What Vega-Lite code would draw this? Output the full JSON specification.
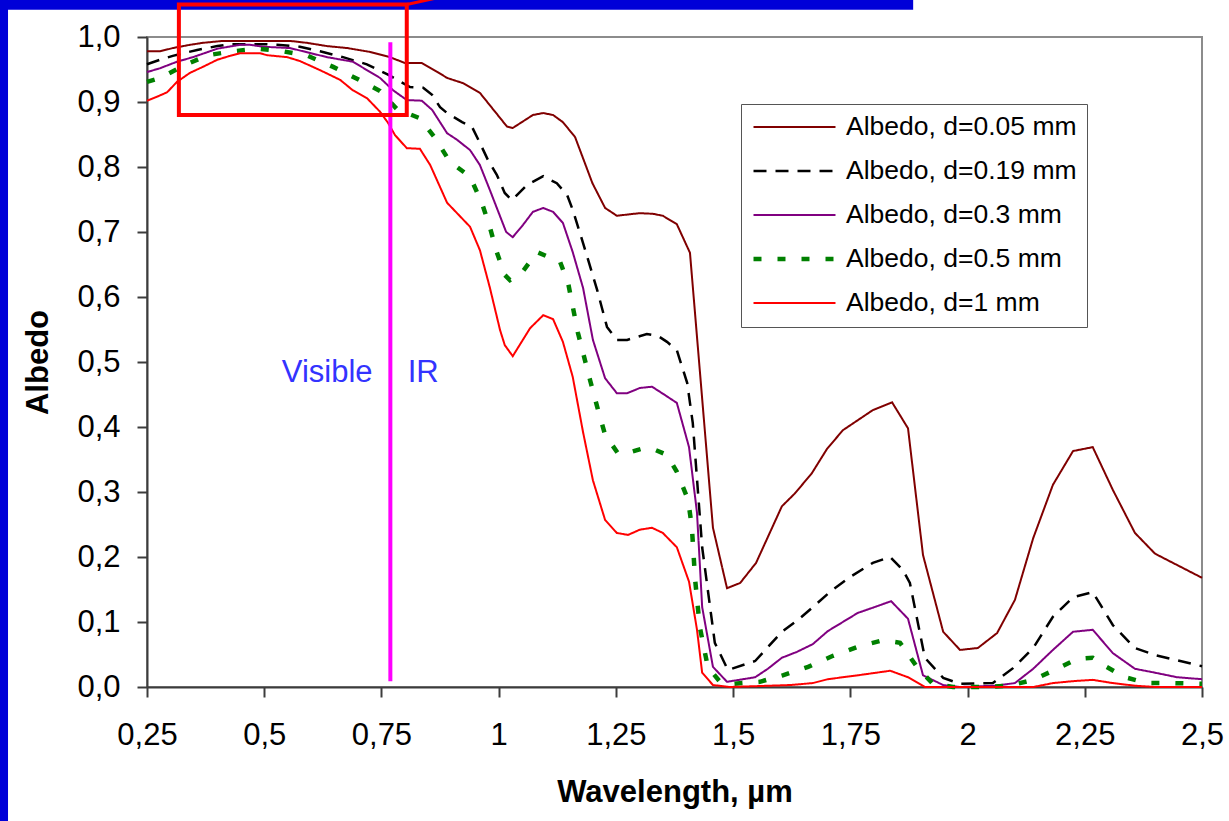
{
  "$schema": "https://vega.github.io/schema/vega-lite/v6.json",
  "width": 1055,
  "height": 650,
  "autosize": {"type": "none"},
  "padding": {"left": 147, "top": 37, "right": 27, "bottom": 134},
  "background": "white",
  "config": {
    "view": {"stroke": "#8c8c8c", "strokeWidth": 2, "fill": "white"},
    "font": "Liberation Sans"
  },
  "datasets": {
    "frame": [
      {"left": -0.12, "right": -0.0464, "bottom": -0.3, "top": 1.12},
      {"left": -0.12, "right": 1.884, "bottom": 1.042, "top": 1.12}
    ],
    "curves": [
      {"d":"0.05","wavelength":0.25,"albedo":0.978},{"d":"0.05","wavelength":0.278,"albedo":0.978},{"d":"0.05","wavelength":0.305,"albedo":0.983},{"d":"0.05","wavelength":0.342,"albedo":0.988},{"d":"0.05","wavelength":0.369,"albedo":0.991},{"d":"0.05","wavelength":0.412,"albedo":0.994},{"d":"0.05","wavelength":0.555,"albedo":0.994},{"d":"0.05","wavelength":0.591,"albedo":0.991},{"d":"0.05","wavelength":0.634,"albedo":0.986},{"d":"0.05","wavelength":0.677,"albedo":0.983},{"d":"0.05","wavelength":0.726,"albedo":0.977},{"d":"0.05","wavelength":0.768,"albedo":0.969},{"d":"0.05","wavelength":0.8,"albedo":0.96},{"d":"0.05","wavelength":0.836,"albedo":0.96},{"d":"0.05","wavelength":0.87,"albedo":0.946},{"d":"0.05","wavelength":0.89,"albedo":0.937},{"d":"0.05","wavelength":0.924,"albedo":0.929},{"d":"0.05","wavelength":0.96,"albedo":0.914},{"d":"0.05","wavelength":1.018,"albedo":0.862},{"d":"0.05","wavelength":1.03,"albedo":0.86},{"d":"0.05","wavelength":1.073,"albedo":0.88},{"d":"0.05","wavelength":1.095,"albedo":0.883},{"d":"0.05","wavelength":1.116,"albedo":0.88},{"d":"0.05","wavelength":1.137,"albedo":0.869},{"d":"0.05","wavelength":1.163,"albedo":0.846},{"d":"0.05","wavelength":1.2,"albedo":0.775},{"d":"0.05","wavelength":1.227,"albedo":0.737},{"d":"0.05","wavelength":1.252,"albedo":0.725},{"d":"0.05","wavelength":1.301,"albedo":0.729},{"d":"0.05","wavelength":1.329,"albedo":0.728},{"d":"0.05","wavelength":1.35,"albedo":0.725},{"d":"0.05","wavelength":1.38,"albedo":0.712},{"d":"0.05","wavelength":1.408,"albedo":0.668},{"d":"0.05","wavelength":1.457,"albedo":0.245},{"d":"0.05","wavelength":1.487,"albedo":0.152},{"d":"0.05","wavelength":1.515,"albedo":0.16},{"d":"0.05","wavelength":1.549,"albedo":0.191},{"d":"0.05","wavelength":1.604,"albedo":0.278},{"d":"0.05","wavelength":1.632,"albedo":0.298},{"d":"0.05","wavelength":1.668,"albedo":0.329},{"d":"0.05","wavelength":1.7,"albedo":0.366},{"d":"0.05","wavelength":1.734,"albedo":0.395},{"d":"0.05","wavelength":1.798,"albedo":0.426},{"d":"0.05","wavelength":1.839,"albedo":0.438},{"d":"0.05","wavelength":1.873,"albedo":0.398},{"d":"0.05","wavelength":1.905,"albedo":0.203},{"d":"0.05","wavelength":1.948,"albedo":0.085},{"d":"0.05","wavelength":1.984,"albedo":0.057},{"d":"0.05","wavelength":2.022,"albedo":0.06},{"d":"0.05","wavelength":2.063,"albedo":0.083},{"d":"0.05","wavelength":2.101,"albedo":0.134},{"d":"0.05","wavelength":2.14,"albedo":0.229},{"d":"0.05","wavelength":2.182,"albedo":0.311},{"d":"0.05","wavelength":2.225,"albedo":0.363},{"d":"0.05","wavelength":2.267,"albedo":0.369},{"d":"0.05","wavelength":2.31,"albedo":0.303},{"d":"0.05","wavelength":2.357,"albedo":0.237},{"d":"0.05","wavelength":2.4,"albedo":0.205},{"d":"0.05","wavelength":2.5,"albedo":0.168},

      {"d":"0.19","wavelength":0.25,"albedo":0.958},{"d":"0.19","wavelength":0.278,"albedo":0.965},{"d":"0.19","wavelength":0.305,"albedo":0.971},{"d":"0.19","wavelength":0.327,"albedo":0.975},{"d":"0.19","wavelength":0.357,"albedo":0.98},{"d":"0.19","wavelength":0.4,"albedo":0.986},{"d":"0.19","wavelength":0.427,"albedo":0.989},{"d":"0.19","wavelength":0.497,"albedo":0.989},{"d":"0.19","wavelength":0.527,"albedo":0.988},{"d":"0.19","wavelength":0.576,"albedo":0.985},{"d":"0.19","wavelength":0.619,"albedo":0.978},{"d":"0.19","wavelength":0.668,"albedo":0.969},{"d":"0.19","wavelength":0.719,"albedo":0.958},{"d":"0.19","wavelength":0.764,"albedo":0.942},{"d":"0.19","wavelength":0.811,"albedo":0.923},{"d":"0.19","wavelength":0.839,"albedo":0.922},{"d":"0.19","wavelength":0.858,"albedo":0.911},{"d":"0.19","wavelength":0.875,"albedo":0.892},{"d":"0.19","wavelength":0.89,"albedo":0.883},{"d":"0.19","wavelength":0.922,"albedo":0.869},{"d":"0.19","wavelength":0.943,"albedo":0.862},{"d":"0.19","wavelength":0.96,"albedo":0.837},{"d":"0.19","wavelength":0.977,"albedo":0.811},{"d":"0.19","wavelength":0.996,"albedo":0.788},{"d":"0.19","wavelength":1.013,"albedo":0.76},{"d":"0.19","wavelength":1.028,"albedo":0.749},{"d":"0.19","wavelength":1.06,"albedo":0.772},{"d":"0.19","wavelength":1.095,"albedo":0.786},{"d":"0.19","wavelength":1.124,"albedo":0.775},{"d":"0.19","wavelength":1.146,"albedo":0.757},{"d":"0.19","wavelength":1.158,"albedo":0.734},{"d":"0.19","wavelength":1.18,"albedo":0.683},{"d":"0.19","wavelength":1.21,"albedo":0.611},{"d":"0.19","wavelength":1.231,"albedo":0.554},{"d":"0.19","wavelength":1.252,"albedo":0.534},{"d":"0.19","wavelength":1.274,"albedo":0.534},{"d":"0.19","wavelength":1.316,"albedo":0.543},{"d":"0.19","wavelength":1.34,"albedo":0.54},{"d":"0.19","wavelength":1.359,"albedo":0.531},{"d":"0.19","wavelength":1.38,"albedo":0.518},{"d":"0.19","wavelength":1.402,"albedo":0.468},{"d":"0.19","wavelength":1.414,"albedo":0.406},{"d":"0.19","wavelength":1.434,"albedo":0.215},{"d":"0.19","wavelength":1.461,"albedo":0.068},{"d":"0.19","wavelength":1.489,"albedo":0.026},{"d":"0.19","wavelength":1.547,"albedo":0.04},{"d":"0.19","wavelength":1.604,"albedo":0.085},{"d":"0.19","wavelength":1.638,"albedo":0.103},{"d":"0.19","wavelength":1.675,"albedo":0.126},{"d":"0.19","wavelength":1.711,"albedo":0.149},{"d":"0.19","wavelength":1.749,"albedo":0.169},{"d":"0.19","wavelength":1.798,"albedo":0.191},{"d":"0.19","wavelength":1.835,"albedo":0.2},{"d":"0.19","wavelength":1.862,"albedo":0.18},{"d":"0.19","wavelength":1.877,"albedo":0.16},{"d":"0.19","wavelength":1.909,"albedo":0.045},{"d":"0.19","wavelength":1.948,"albedo":0.014},{"d":"0.19","wavelength":1.984,"albedo":0.005},{"d":"0.19","wavelength":2.054,"albedo":0.006},{"d":"0.19","wavelength":2.097,"albedo":0.029},{"d":"0.19","wavelength":2.14,"albedo":0.06},{"d":"0.19","wavelength":2.182,"albedo":0.108},{"d":"0.19","wavelength":2.225,"albedo":0.138},{"d":"0.19","wavelength":2.267,"albedo":0.146},{"d":"0.19","wavelength":2.31,"albedo":0.095},{"d":"0.19","wavelength":2.357,"albedo":0.06},{"d":"0.19","wavelength":2.4,"albedo":0.049},{"d":"0.19","wavelength":2.5,"albedo":0.032},

      {"d":"0.3","wavelength":0.25,"albedo":0.946},{"d":"0.3","wavelength":0.278,"albedo":0.952},{"d":"0.3","wavelength":0.314,"albedo":0.962},{"d":"0.3","wavelength":0.348,"albedo":0.969},{"d":"0.3","wavelength":0.4,"albedo":0.982},{"d":"0.3","wavelength":0.448,"albedo":0.988},{"d":"0.3","wavelength":0.47,"albedo":0.988},{"d":"0.3","wavelength":0.497,"albedo":0.985},{"d":"0.3","wavelength":0.555,"albedo":0.983},{"d":"0.3","wavelength":0.583,"albedo":0.978},{"d":"0.3","wavelength":0.634,"albedo":0.969},{"d":"0.3","wavelength":0.689,"albedo":0.962},{"d":"0.3","wavelength":0.747,"albedo":0.937},{"d":"0.3","wavelength":0.775,"albedo":0.918},{"d":"0.3","wavelength":0.804,"albedo":0.903},{"d":"0.3","wavelength":0.836,"albedo":0.902},{"d":"0.3","wavelength":0.858,"albedo":0.888},{"d":"0.3","wavelength":0.89,"albedo":0.852},{"d":"0.3","wavelength":0.911,"albedo":0.842},{"d":"0.3","wavelength":0.939,"albedo":0.826},{"d":"0.3","wavelength":0.96,"albedo":0.803},{"d":"0.3","wavelength":0.981,"albedo":0.765},{"d":"0.3","wavelength":1.016,"albedo":0.7},{"d":"0.3","wavelength":1.03,"albedo":0.692},{"d":"0.3","wavelength":1.052,"albedo":0.711},{"d":"0.3","wavelength":1.073,"albedo":0.731},{"d":"0.3","wavelength":1.095,"albedo":0.737},{"d":"0.3","wavelength":1.116,"albedo":0.731},{"d":"0.3","wavelength":1.137,"albedo":0.714},{"d":"0.3","wavelength":1.158,"albedo":0.669},{"d":"0.3","wavelength":1.18,"albedo":0.614},{"d":"0.3","wavelength":1.201,"albedo":0.534},{"d":"0.3","wavelength":1.227,"albedo":0.475},{"d":"0.3","wavelength":1.252,"albedo":0.452},{"d":"0.3","wavelength":1.274,"albedo":0.452},{"d":"0.3","wavelength":1.301,"albedo":0.46},{"d":"0.3","wavelength":1.327,"albedo":0.462},{"d":"0.3","wavelength":1.355,"albedo":0.449},{"d":"0.3","wavelength":1.38,"albedo":0.437},{"d":"0.3","wavelength":1.406,"albedo":0.369},{"d":"0.3","wavelength":1.423,"albedo":0.268},{"d":"0.3","wavelength":1.434,"albedo":0.123},{"d":"0.3","wavelength":1.457,"albedo":0.031},{"d":"0.3","wavelength":1.487,"albedo":0.008},{"d":"0.3","wavelength":1.547,"albedo":0.015},{"d":"0.3","wavelength":1.574,"albedo":0.028},{"d":"0.3","wavelength":1.604,"albedo":0.045},{"d":"0.3","wavelength":1.636,"albedo":0.054},{"d":"0.3","wavelength":1.67,"albedo":0.066},{"d":"0.3","wavelength":1.702,"albedo":0.086},{"d":"0.3","wavelength":1.734,"albedo":0.1},{"d":"0.3","wavelength":1.766,"albedo":0.114},{"d":"0.3","wavelength":1.798,"albedo":0.122},{"d":"0.3","wavelength":1.837,"albedo":0.132},{"d":"0.3","wavelength":1.873,"albedo":0.105},{"d":"0.3","wavelength":1.905,"albedo":0.018},{"d":"0.3","wavelength":1.948,"albedo":0.003},{"d":"0.3","wavelength":1.984,"albedo":0.0},{"d":"0.3","wavelength":2.058,"albedo":0.002},{"d":"0.3","wavelength":2.101,"albedo":0.006},{"d":"0.3","wavelength":2.14,"albedo":0.028},{"d":"0.3","wavelength":2.182,"albedo":0.057},{"d":"0.3","wavelength":2.225,"albedo":0.085},{"d":"0.3","wavelength":2.267,"albedo":0.088},{"d":"0.3","wavelength":2.31,"albedo":0.052},{"d":"0.3","wavelength":2.357,"albedo":0.028},{"d":"0.3","wavelength":2.4,"albedo":0.022},{"d":"0.3","wavelength":2.447,"albedo":0.015},{"d":"0.3","wavelength":2.5,"albedo":0.012},

      {"d":"0.5","wavelength":0.25,"albedo":0.931},{"d":"0.5","wavelength":0.278,"albedo":0.937},{"d":"0.5","wavelength":0.331,"albedo":0.957},{"d":"0.5","wavelength":0.38,"albedo":0.972},{"d":"0.5","wavelength":0.433,"albedo":0.978},{"d":"0.5","wavelength":0.487,"albedo":0.982},{"d":"0.5","wavelength":0.54,"albedo":0.978},{"d":"0.5","wavelength":0.593,"albedo":0.971},{"d":"0.5","wavelength":0.647,"albedo":0.954},{"d":"0.5","wavelength":0.7,"albedo":0.935},{"d":"0.5","wavelength":0.747,"albedo":0.917},{"d":"0.5","wavelength":0.783,"albedo":0.889},{"d":"0.5","wavelength":0.832,"albedo":0.875},{"d":"0.5","wavelength":0.864,"albedo":0.845},{"d":"0.5","wavelength":0.896,"albedo":0.808},{"d":"0.5","wavelength":0.939,"albedo":0.785},{"d":"0.5","wavelength":0.964,"albedo":0.745},{"d":"0.5","wavelength":0.981,"albedo":0.708},{"d":"0.5","wavelength":0.996,"albedo":0.669},{"d":"0.5","wavelength":1.013,"albedo":0.634},{"d":"0.5","wavelength":1.024,"albedo":0.626},{"d":"0.5","wavelength":1.05,"albedo":0.638},{"d":"0.5","wavelength":1.082,"albedo":0.669},{"d":"0.5","wavelength":1.131,"albedo":0.654},{"d":"0.5","wavelength":1.148,"albedo":0.622},{"d":"0.5","wavelength":1.169,"albedo":0.545},{"d":"0.5","wavelength":1.195,"albedo":0.472},{"d":"0.5","wavelength":1.212,"albedo":0.426},{"d":"0.5","wavelength":1.227,"albedo":0.388},{"d":"0.5","wavelength":1.254,"albedo":0.36},{"d":"0.5","wavelength":1.274,"albedo":0.36},{"d":"0.5","wavelength":1.312,"albedo":0.368},{"d":"0.5","wavelength":1.333,"albedo":0.365},{"d":"0.5","wavelength":1.359,"albedo":0.357},{"d":"0.5","wavelength":1.38,"albedo":0.331},{"d":"0.5","wavelength":1.404,"albedo":0.288},{"d":"0.5","wavelength":1.412,"albedo":0.246},{"d":"0.5","wavelength":1.419,"albedo":0.165},{"d":"0.5","wavelength":1.429,"albedo":0.092},{"d":"0.5","wavelength":1.446,"albedo":0.031},{"d":"0.5","wavelength":1.472,"albedo":0.008},{"d":"0.5","wavelength":1.5,"albedo":0.005},{"d":"0.5","wavelength":1.557,"albedo":0.008},{"d":"0.5","wavelength":1.606,"albedo":0.018},{"d":"0.5","wavelength":1.66,"albedo":0.031},{"d":"0.5","wavelength":1.713,"albedo":0.048},{"d":"0.5","wavelength":1.766,"albedo":0.062},{"d":"0.5","wavelength":1.82,"albedo":0.072},{"d":"0.5","wavelength":1.856,"albedo":0.068},{"d":"0.5","wavelength":1.892,"albedo":0.031},{"d":"0.5","wavelength":1.926,"albedo":0.005},{"d":"0.5","wavelength":1.969,"albedo":0.0},{"d":"0.5","wavelength":2.033,"albedo":0.0},{"d":"0.5","wavelength":2.09,"albedo":0.002},{"d":"0.5","wavelength":2.14,"albedo":0.011},{"d":"0.5","wavelength":2.182,"albedo":0.025},{"d":"0.5","wavelength":2.233,"albedo":0.043},{"d":"0.5","wavelength":2.267,"albedo":0.045},{"d":"0.5","wavelength":2.289,"albedo":0.034},{"d":"0.5","wavelength":2.336,"albedo":0.015},{"d":"0.5","wavelength":2.383,"albedo":0.006},{"d":"0.5","wavelength":2.438,"albedo":0.006},{"d":"0.5","wavelength":2.5,"albedo":0.005},

      {"d":"1","wavelength":0.25,"albedo":0.902},{"d":"1","wavelength":0.271,"albedo":0.908},{"d":"1","wavelength":0.293,"albedo":0.915},{"d":"1","wavelength":0.314,"albedo":0.931},{"d":"1","wavelength":0.342,"albedo":0.945},{"d":"1","wavelength":0.369,"albedo":0.954},{"d":"1","wavelength":0.4,"albedo":0.965},{"d":"1","wavelength":0.427,"albedo":0.971},{"d":"1","wavelength":0.448,"albedo":0.975},{"d":"1","wavelength":0.491,"albedo":0.975},{"d":"1","wavelength":0.506,"albedo":0.972},{"d":"1","wavelength":0.549,"albedo":0.969},{"d":"1","wavelength":0.576,"albedo":0.963},{"d":"1","wavelength":0.619,"albedo":0.949},{"d":"1","wavelength":0.662,"albedo":0.934},{"d":"1","wavelength":0.689,"albedo":0.918},{"d":"1","wavelength":0.719,"albedo":0.906},{"d":"1","wavelength":0.747,"albedo":0.885},{"d":"1","wavelength":0.764,"albedo":0.868},{"d":"1","wavelength":0.779,"albedo":0.849},{"d":"1","wavelength":0.804,"albedo":0.829},{"d":"1","wavelength":0.832,"albedo":0.828},{"d":"1","wavelength":0.854,"albedo":0.803},{"d":"1","wavelength":0.89,"albedo":0.745},{"d":"1","wavelength":0.939,"albedo":0.708},{"d":"1","wavelength":0.96,"albedo":0.672},{"d":"1","wavelength":0.981,"albedo":0.615},{"d":"1","wavelength":1.003,"albedo":0.549},{"d":"1","wavelength":1.013,"albedo":0.526},{"d":"1","wavelength":1.03,"albedo":0.509},{"d":"1","wavelength":1.067,"albedo":0.552},{"d":"1","wavelength":1.095,"albedo":0.572},{"d":"1","wavelength":1.116,"albedo":0.566},{"d":"1","wavelength":1.137,"albedo":0.531},{"d":"1","wavelength":1.158,"albedo":0.477},{"d":"1","wavelength":1.18,"albedo":0.392},{"d":"1","wavelength":1.201,"albedo":0.318},{"d":"1","wavelength":1.227,"albedo":0.257},{"d":"1","wavelength":1.252,"albedo":0.237},{"d":"1","wavelength":1.276,"albedo":0.234},{"d":"1","wavelength":1.301,"albedo":0.242},{"d":"1","wavelength":1.327,"albedo":0.245},{"d":"1","wavelength":1.35,"albedo":0.237},{"d":"1","wavelength":1.38,"albedo":0.215},{"d":"1","wavelength":1.406,"albedo":0.162},{"d":"1","wavelength":1.423,"albedo":0.088},{"d":"1","wavelength":1.434,"albedo":0.022},{"d":"1","wavelength":1.457,"albedo":0.003},{"d":"1","wavelength":1.493,"albedo":0.0},{"d":"1","wavelength":1.621,"albedo":0.003},{"d":"1","wavelength":1.67,"albedo":0.006},{"d":"1","wavelength":1.702,"albedo":0.012},{"d":"1","wavelength":1.766,"albedo":0.018},{"d":"1","wavelength":1.835,"albedo":0.025},{"d":"1","wavelength":1.873,"albedo":0.015},{"d":"1","wavelength":1.909,"albedo":0.0},{"d":"1","wavelength":2.14,"albedo":0.0},{"d":"1","wavelength":2.182,"albedo":0.006},{"d":"1","wavelength":2.225,"albedo":0.009},{"d":"1","wavelength":2.267,"albedo":0.011},{"d":"1","wavelength":2.31,"albedo":0.006},{"d":"1","wavelength":2.357,"albedo":0.002},{"d":"1","wavelength":2.4,"albedo":0.0},{"d":"1","wavelength":2.5,"albedo":0.0}
    ]
  },
  "layer": [
    {
      "data": {"name": "frame"},
      "mark": {"type": "rect", "fill": "#0000d8"},
      "encoding": {
        "x": {"field": "left", "type": "quantitative", "scale": {"domain": [0.25, 2.5], "nice": false, "zero": false}},
        "x2": {"field": "right"},
        "y": {"field": "bottom", "type": "quantitative", "scale": {"domain": [0, 1], "nice": false, "zero": false}},
        "y2": {"field": "top"}
      }
    },
    {
      "data": {"name": "curves"},
      "mark": {"type": "line", "strokeCap": "butt", "strokeJoin": "miter"},
      "encoding": {
        "x": {
          "field": "wavelength", "type": "quantitative",
          "scale": {"domain": [0.25, 2.5], "nice": false, "zero": false},
          "axis": {
            "values": [0.25, 0.5, 0.75, 1, 1.25, 1.5, 1.75, 2, 2.25, 2.5],
            "labelExpr": "replace('' + datum.value, '.', ',')",
            "title": "Wavelength, µm",
            "grid": false,
            "domainColor": "#3c3c3c", "domainWidth": 2,
            "tickColor": "#3c3c3c", "tickWidth": 2, "tickSize": 10,
            "labelFont": "Liberation Sans", "labelFontSize": 31, "labelColor": "black", "labelPadding": 23,
            "labelFlush": false, "labelOverlap": false,
            "titleFont": "Liberation Sans", "titleFontSize": 31, "titleFontWeight": "bold", "titleColor": "black", "titlePadding": 27
          }
        },
        "y": {
          "field": "albedo", "type": "quantitative",
          "scale": {"domain": [0, 1], "nice": false, "zero": false},
          "axis": {
            "values": [0, 0.1, 0.2, 0.3, 0.4, 0.5, 0.6, 0.7, 0.8, 0.9, 1],
            "labelExpr": "replace(format(datum.value, '.1f'), '.', ',')",
            "title": "Albedo",
            "grid": false,
            "domainColor": "#3c3c3c", "domainWidth": 2,
            "tickColor": "#3c3c3c", "tickWidth": 2, "tickSize": 10,
            "labelFont": "Liberation Sans", "labelFontSize": 31, "labelColor": "black", "labelPadding": 17,
            "labelFlush": false, "labelOverlap": false,
            "titleFont": "Liberation Sans", "titleFontSize": 31, "titleFontWeight": "bold", "titleColor": "black", "titlePadding": 22
          }
        },
        "color": {
          "field": "d", "type": "nominal",
          "scale": {"domain": ["0.05", "0.19", "0.3", "0.5", "1"], "range": ["#800000", "#000000", "#800080", "#008000", "#ff0000"]},
          "legend": {
            "title": null,
            "orient": "none", "legendX": 594, "legendY": 67,
            "direction": "vertical",
            "labelExpr": "'Albedo, d=' + datum.label + ' mm'",
            "labelFont": "Liberation Sans", "labelFontSize": 26.5, "labelColor": "black", "labelOffset": 8,
            "labelLimit": 400,
            "symbolType": "stroke", "symbolSize": 6724,
            "clipHeight": 26, "rowPadding": 17,
            "padding": 10,
            "strokeColor": "#555555", "fillColor": "white", "cornerRadius": 0
          }
        },
        "strokeDash": {
          "field": "d", "type": "nominal",
          "scale": {"type": "ordinal", "domain": ["0.05", "0.19", "0.3", "0.5", "1"], "range": [[1, 0], [13, 9], [1, 0], [8, 16], [1, 0]]}
        },
        "strokeWidth": {
          "field": "d", "type": "nominal",
          "scale": {"type": "ordinal", "domain": ["0.05", "0.19", "0.3", "0.5", "1"], "range": [2, 2.5, 2, 4.5, 2]}
        }
      }
    },
    {
      "data": {"values": [{"wavelength": 0.769, "top": 0.992, "bottom": 0.009}]},
      "mark": {"type": "rule", "color": "#ff00ff", "strokeWidth": 4},
      "encoding": {
        "x": {"field": "wavelength", "type": "quantitative"},
        "y": {"field": "bottom", "type": "quantitative"},
        "y2": {"field": "top"}
      }
    },
    {
      "data": {"values": [{"label": "Visible", "wavelength": 0.731, "albedo": 0.483}]},
      "mark": {"type": "text", "align": "right", "baseline": "middle", "font": "Liberation Sans", "fontSize": 31, "color": "#3333ff"},
      "encoding": {
        "x": {"field": "wavelength", "type": "quantitative"},
        "y": {"field": "albedo", "type": "quantitative"},
        "text": {"field": "label"}
      }
    },
    {
      "data": {"values": [{"label": "IR", "wavelength": 0.806, "albedo": 0.483}]},
      "mark": {"type": "text", "align": "left", "baseline": "middle", "font": "Liberation Sans", "fontSize": 31, "color": "#3333ff"},
      "encoding": {
        "x": {"field": "wavelength", "type": "quantitative"},
        "y": {"field": "albedo", "type": "quantitative"},
        "text": {"field": "label"}
      }
    },
    {
      "data": {"values": [{"left": 0.318, "right": 0.804, "bottom": 0.88, "top": 1.05}]},
      "mark": {"type": "rect", "fillOpacity": 0, "stroke": "#ff0000", "strokeWidth": 4},
      "encoding": {
        "x": {"field": "left", "type": "quantitative"},
        "x2": {"field": "right"},
        "y": {"field": "bottom", "type": "quantitative"},
        "y2": {"field": "top"}
      }
    },
    {
      "data": {"values": [{"left": 0.804, "right": 0.88, "bottom": 1.05, "top": 1.062}]},
      "mark": {"type": "rule", "color": "#ff0000", "strokeWidth": 3},
      "encoding": {
        "x": {"field": "left", "type": "quantitative"},
        "x2": {"field": "right"},
        "y": {"field": "bottom", "type": "quantitative"},
        "y2": {"field": "top"}
      }
    }
  ]
}
